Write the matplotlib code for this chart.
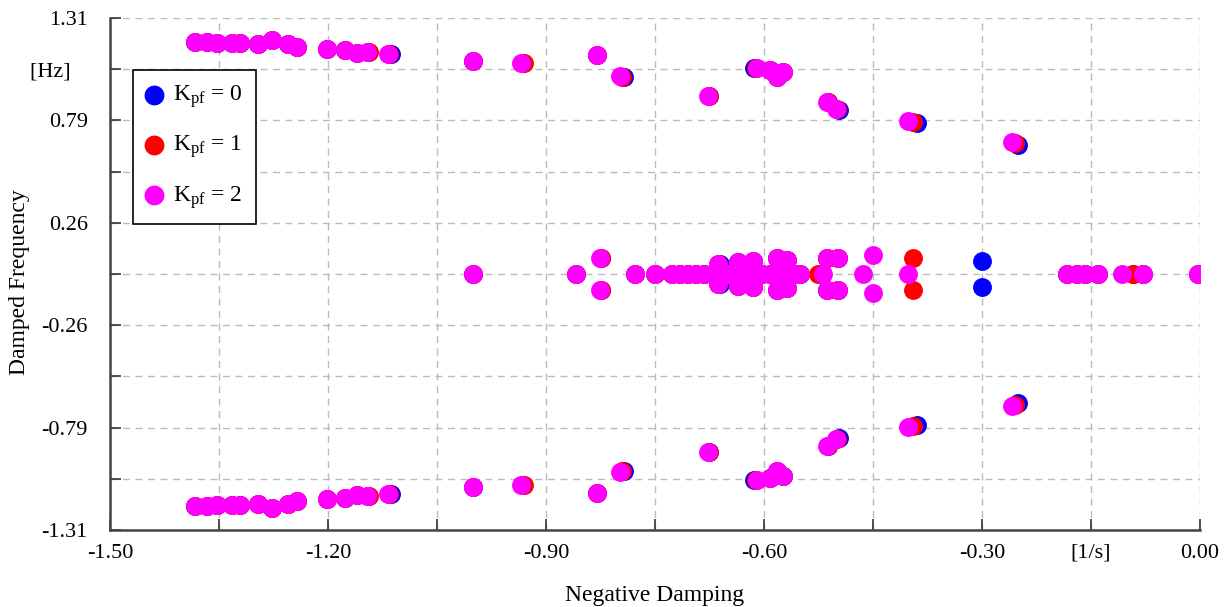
import numpy as np
import matplotlib.pyplot as plt

plt.rcParams['font.family'] = ['Liberation Serif', 'DejaVu Serif']
plt.rcParams['mathtext.fontset'] = 'custom'
plt.rcParams['mathtext.rm'] = 'Liberation Serif'
plt.rcParams['mathtext.it'] = 'Liberation Serif:italic'

# complex eigenvalue pairs (damping, +freq), plotted with their conjugates
pairs_k2 = [(-1.383, 1.187), (-1.367, 1.187), (-1.353, 1.182), (-1.332, 1.182),
            (-1.321, 1.182), (-1.296, 1.177), (-1.277, 1.198), (-1.255, 1.177),
            (-1.243, 1.162), (-1.201, 1.151), (-1.177, 1.146), (-1.160, 1.131),
            (-1.146, 1.136), (-1.117, 1.126), (-1.000, 1.090), (-0.934, 1.080),
            (-0.830, 1.121), (-0.798, 1.013), (-0.677, 0.911), (-0.610, 1.054),
            (-0.592, 1.044), (-0.582, 1.008), (-0.574, 1.034), (-0.513, 0.880),
            (-0.501, 0.844), (-0.402, 0.783), (-0.259, 0.676),
            (-0.826, 0.082), (-0.663, 0.050), (-0.636, 0.062), (-0.615, 0.064),
            (-0.582, 0.080), (-0.568, 0.070), (-0.513, 0.082), (-0.498, 0.082),
            (-0.450, 0.095)]

pairs_k1 = [(-1.383, 1.187), (-1.367, 1.187), (-1.353, 1.182), (-1.332, 1.182),
            (-1.321, 1.182), (-1.296, 1.177), (-1.277, 1.198), (-1.255, 1.177),
            (-1.243, 1.162), (-1.201, 1.151), (-1.177, 1.146), (-1.160, 1.131),
            (-1.143, 1.136), (-1.116, 1.126), (-1.000, 1.090), (-0.930, 1.080),
            (-0.830, 1.121), (-0.795, 1.010), (-0.676, 0.911), (-0.611, 1.054),
            (-0.592, 1.044), (-0.582, 1.008), (-0.574, 1.034), (-0.512, 0.878),
            (-0.499, 0.842), (-0.395, 0.778), (-0.255, 0.671),
            (-0.825, 0.082), (-0.663, 0.050), (-0.636, 0.062), (-0.615, 0.064),
            (-0.582, 0.080), (-0.568, 0.070), (-0.513, 0.082), (-0.498, 0.082),
            (-0.395, 0.082)]

pairs_k0 = [(-1.383, 1.187), (-1.367, 1.187), (-1.353, 1.182), (-1.332, 1.182),
            (-1.321, 1.182), (-1.296, 1.177), (-1.277, 1.198), (-1.255, 1.177),
            (-1.243, 1.162), (-1.201, 1.151), (-1.177, 1.146), (-1.160, 1.131),
            (-1.145, 1.136), (-1.113, 1.126), (-1.000, 1.090), (-0.932, 1.080),
            (-0.830, 1.121), (-0.793, 1.010), (-0.676, 0.911), (-0.614, 1.054),
            (-0.592, 1.044), (-0.582, 1.008), (-0.574, 1.034), (-0.512, 0.878),
            (-0.497, 0.840), (-0.390, 0.772), (-0.251, 0.660),
            (-0.824, 0.082), (-0.660, 0.050), (-0.636, 0.062), (-0.615, 0.064),
            (-0.582, 0.080), (-0.568, 0.070), (-0.513, 0.082), (-0.498, 0.082),
            (-0.300, 0.067)]

# real eigenvalues
real_k2 = [-1.000, -0.859, -0.778, -0.750, -0.727, -0.716, -0.705, -0.694,
           -0.683, -0.672, -0.665, -0.650, -0.636, -0.626, -0.615, -0.603,
           -0.592, -0.578, -0.564, -0.555, -0.550, -0.519, -0.464, -0.402,
           -0.183, -0.169, -0.158, -0.140, -0.107, -0.078, -0.003]
real_k1 = [-1.000, -0.859, -0.778, -0.750, -0.727, -0.716, -0.705, -0.694,
           -0.683, -0.672, -0.665, -0.650, -0.636, -0.626, -0.615, -0.603,
           -0.592, -0.578, -0.564, -0.555, -0.550, -0.526,
           -0.183, -0.169, -0.158, -0.140, -0.092, -0.078, -0.003]
real_k0 = [-1.000, -0.859, -0.778, -0.750, -0.727, -0.716, -0.705, -0.694,
           -0.683, -0.672, -0.665, -0.650, -0.636, -0.626, -0.615, -0.603,
           -0.592, -0.578, -0.564, -0.555, -0.550, -0.522,
           -0.183, -0.169, -0.158, -0.140, -0.092, -0.078, -0.003]

series = [('0', 'blue', pairs_k0, real_k0),
          ('1', 'red', pairs_k1, real_k1),
          ('2', 'magenta', pairs_k2, real_k2)]

xticks = [-1.50, -1.35, -1.20, -1.05, -0.90, -0.75, -0.60, -0.45, -0.30, -0.15, 0.00]
xlabels = ['-1.50', '', '-1.20', '', '-0.90', '', '-0.60', '', '-0.30', '[1/s]', '0.00']
yticks = list(np.linspace(-1.31, 1.31, 11))
ylabels = ['-1.31', '', '-0.79', '', '-0.26', '', '0.26', '', '0.79', '[Hz]   ', '1.31']

fig = plt.figure(figsize=(12.32, 6.07), dpi=100)
ax = fig.add_axes([110/1232, 77/607, 1090/1232, 512/607])

for k, col, pairs, reals in series:
    p = np.array(pairs)
    xs = np.concatenate([p[:, 0], p[:, 0], reals])
    ys = np.concatenate([p[:, 1], -p[:, 1], np.zeros(len(reals))])
    ax.scatter(xs, ys, s=185, c=col, linewidths=0, zorder=3,
               label=r'K$_{\mathrm{pf}}$ = ' + k)

ax.set_xlim(-1.5, 0.0)
ax.set_ylim(-1.31, 1.31)
ax.set_xticks(xticks)
ax.set_xticklabels(xlabels)
ax.set_yticks(yticks)
ax.set_yticklabels(ylabels)
ax.tick_params(direction='in', length=8, width=1.2, color='#333333',
               labelsize=16)
ax.tick_params(axis='y', pad=16)
ax.tick_params(axis='x', pad=10)
ax.grid(True, linestyle=(0, (5, 4)), color='#bbbbbb', linewidth=1)
ax.set_axisbelow(True)
for s in ['top', 'right']:
    ax.spines[s].set_visible(False)
for s in ['left', 'bottom']:
    ax.spines[s].set_color('#444444')
    ax.spines[s].set_linewidth(1.8)

ax.set_xlabel('Negative Damping', fontsize=17)
ax.set_ylabel('Damped Frequency', fontsize=17)
ax.xaxis.set_label_coords(0.5, -0.107)
ax.yaxis.set_label_coords(-0.073, 0.484)

leg = ax.legend(loc='upper left', bbox_to_anchor=(0.021, 0.898), fontsize=17,
                labelspacing=1.0, handlelength=0.7, handletextpad=0.45,
                borderpad=0.55, borderaxespad=0, fancybox=False, framealpha=1,
                markerscale=1.05)
leg.get_frame().set_edgecolor('black')
leg.get_frame().set_linewidth(1.2)

fig.savefig('out.png', dpi=100)
